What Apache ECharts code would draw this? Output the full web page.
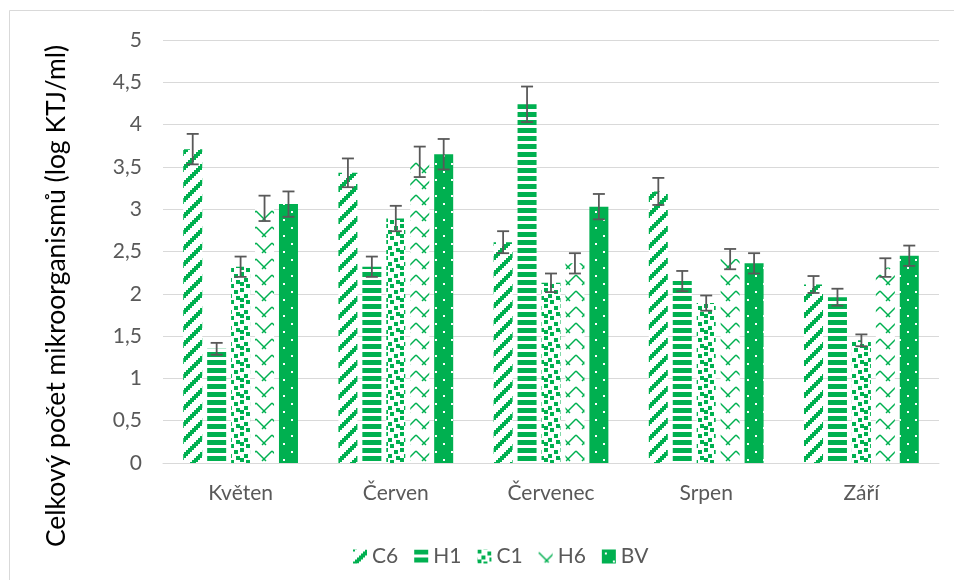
<!DOCTYPE html>
<html>
<head>
<meta charset="utf-8">
<script src="https://cdn.jsdelivr.net/npm/echarts@6/dist/echarts.min.js"></script>
<style>
  html, body { margin: 0; padding: 0; background: #fff; }
  #chart { width: 954px; height: 580px; }
</style>
</head>
<body>
<div id="chart"></div>
<script>
// data
var categories = ['Květen', 'Červen', 'Červenec', 'Srpen', 'Září'];
var seriesNames = ['C6', 'H1', 'C1', 'H6', 'BV'];
var c6 = [3.71, 3.43, 2.61, 3.21, 2.11];
var c6Err = [0.18, 0.17, 0.13, 0.16, 0.10];
var h1 = [1.35, 2.32, 4.24, 2.15, 1.96];
var h1Err = [0.07, 0.12, 0.21, 0.12, 0.10];
var c1 = [2.32, 2.89, 2.13, 1.89, 1.45];
var c1Err = [0.12, 0.15, 0.11, 0.09, 0.07];
var h6 = [3.01, 3.56, 2.36, 2.41, 2.31];
var h6Err = [0.15, 0.18, 0.12, 0.12, 0.11];
var bv = [3.06, 3.65, 3.03, 2.36, 2.45];
var bvErr = [0.15, 0.18, 0.15, 0.12, 0.12];
var yTicks = [0, 0.5, 1, 1.5, 2, 2.5, 3, 3.5, 4, 4.5, 5];

var GREEN = '#00B050';
var FONT = 'Lato';

// small canvas tiles for the excel-like fill patterns
function tile(w, h, bg, draw) {
  var c = document.createElement('canvas');
  c.width = w; c.height = h;
  var ctx = c.getContext('2d');
  ctx.fillStyle = bg;
  ctx.fillRect(0, 0, w, h);
  ctx.fillStyle = GREEN;
  ctx.strokeStyle = GREEN;
  draw(ctx);
  return { image: c, repeat: 'repeat' };
}

// wide upward diagonal
var patC6 = tile(16, 16, '#fff', function (ctx) {
  for (var r = 0; r < 8; r++) {
    for (var k = 0; k < 3; k++) {
      var col = (6 - r + k + 16) % 8;
      ctx.fillRect(col * 2, r * 2, 2, 2);
    }
  }
});
// dark horizontal
var patH1 = tile(8, 8, '#fff', function (ctx) {
  ctx.fillRect(0, 0, 8, 5);
});
// large confetti
var patC1 = tile(16, 16, '#fff', function (ctx) {
  var blocks = [[0, 0], [5, 1], [2, 3], [6, 4], [0, 5], [3, 6]];
  blocks.forEach(function (b) {
    for (var dx = 0; dx < 2; dx++) {
      for (var dy = 0; dy < 2; dy++) {
        ctx.fillRect(((b[0] + dx) % 8) * 2, ((b[1] + dy) % 8) * 2, 2, 2);
      }
    }
  });
});
// wave
var patH6 = tile(16, 16, '#fff', function (ctx) {
  ctx.lineWidth = 1.5;
  ctx.beginPath();
  ctx.moveTo(0, 3); ctx.lineTo(8, 11); ctx.lineTo(16, 3);
  ctx.stroke();
  ctx.beginPath();
  ctx.moveTo(6, 13); ctx.lineTo(8, 11); ctx.lineTo(10, 13);
  ctx.stroke();
});
// 90 % with white dots
var patBV = tile(16, 16, GREEN, function (ctx) {
  ctx.fillStyle = '#fff';
  ctx.fillRect(3, 3, 2, 2);
  ctx.fillRect(11, 11, 2, 2);
});

var values = [c6, h1, c1, h6, bv];
var errors = [c6Err, h1Err, c1Err, h6Err, bvErr];
var patterns = [patC6, patH1, patC1, patH6, patBV];

var BAR_W = 19;
var BAR_GAP = 0.26;

function errRender(offset) {
  return function (params, api) {
    var v = api.value(1), e = api.value(2);
    var hi = api.coord([api.value(0), v + e]);
    var lo = api.coord([api.value(0), v - e]);
    var x = hi[0] + offset;
    var st = { stroke: '#595959', lineWidth: 1.8 };
    return {
      type: 'group',
      children: [
        { type: 'line', shape: { x1: x, y1: hi[1], x2: x, y2: lo[1] }, style: st },
        { type: 'line', shape: { x1: x - 6, y1: hi[1], x2: x + 6, y2: hi[1] }, style: st },
        { type: 'line', shape: { x1: x - 6, y1: lo[1], x2: x + 6, y2: lo[1] }, style: st }
      ]
    };
  };
}

var series = [];
seriesNames.forEach(function (name, i) {
  series.push({
    name: name,
    type: 'bar',
    barWidth: BAR_W,
    barGap: (BAR_GAP * 100) + '%',
    itemStyle: { color: patterns[i] },
    data: values[i]
  });
});
seriesNames.forEach(function (name, i) {
  var offset = (i - 2) * BAR_W * (1 + BAR_GAP);
  series.push({
    type: 'custom',
    name: name + ' err',
    z: 5,
    renderItem: errRender(offset),
    encode: { x: 0, y: 1 },
    data: values[i].map(function (v, j) { return [j, v, errors[i][j]]; })
  });
});

var chart = echarts.init(document.getElementById('chart'));
var option = {
  animation: false,
  backgroundColor: '#fff',
  grid: { left: 163, right: 15, top: 40, bottom: 117, containLabel: false, outerBoundsMode: 'none' },
  legend: {
    data: seriesNames,
    left: 348,
    top: 541,
    icon: 'rect',
    itemWidth: 14,
    itemHeight: 14,
    itemGap: 16,
    textStyle: { fontFamily: FONT, fontSize: 21, color: '#595959' }
  },
  xAxis: {
    type: 'category',
    data: categories,
    axisLine: { lineStyle: { color: '#d9d9d9', width: 1 } },
    axisTick: { show: false },
    axisLabel: { fontFamily: FONT, fontSize: 21, color: '#595959', margin: 20 }
  },
  yAxis: {
    type: 'value',
    min: yTicks[0],
    max: yTicks[yTicks.length - 1],
    interval: yTicks[1] - yTicks[0],
    axisLine: { show: false },
    axisTick: { show: false },
    splitLine: { lineStyle: { color: '#d9d9d9', width: 1 } },
    axisLabel: {
      fontFamily: FONT, fontSize: 21, color: '#595959', margin: 21,
      formatter: function (v) { return String(v).replace('.', ','); }
    }
  },
  graphic: [
    {
      type: 'rect', silent: true, z: -10,
      shape: { x: 9.5, y: 10.5, width: 980, height: 600 },
      style: { fill: 'none', stroke: '#d9d9d9', lineWidth: 1 }
    },
    {
      type: 'text', x: 56, y: 296, rotation: Math.PI / 2,
      style: {
        text: 'Celkový počet mikroorganismů (log KTJ/ml)',
        fontFamily: FONT, fontSize: 26.5, fill: '#000',
        align: 'center', verticalAlign: 'middle'
      }
    }
  ],
  series: series
};
chart.setOption(option);
window.addEventListener('resize', function () { chart.resize(); });
</script>
</body>
</html>
